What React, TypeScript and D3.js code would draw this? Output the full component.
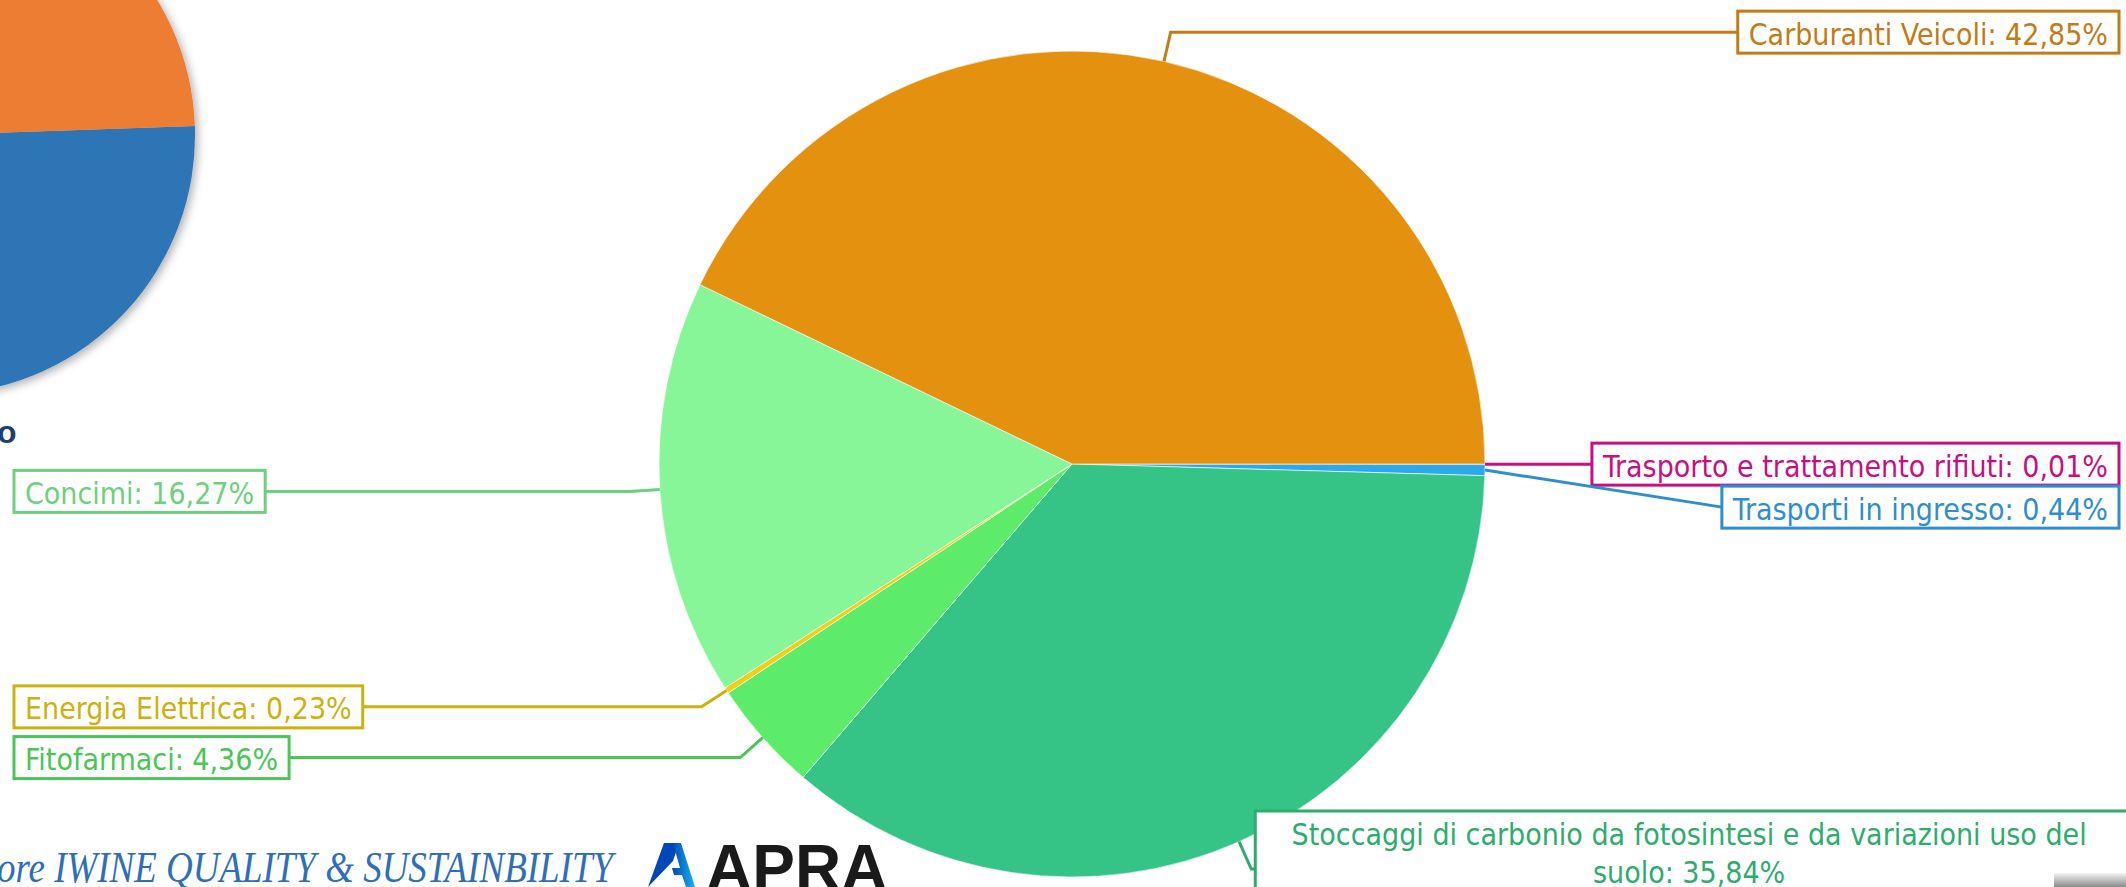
import React, { useEffect, useRef } from 'react';
import * as d3 from 'd3';

const categories = [
  'Trasporto e trattamento rifiuti',
  'Trasporti in ingresso',
  'Stoccaggi di carbonio da fotosintesi e da variazioni uso del suolo',
  'Fitofarmaci',
  'Energia Elettrica',
  'Concimi',
  'Carburanti Veicoli',
];
const values = [0.01, 0.44, 35.84, 4.36, 0.23, 16.27, 42.85];
const sliceColors = ['#C8127F', '#2EA8E8', '#35C486', '#5CEC69', '#F2CE17', '#87F698', '#E3910F'];
const labelColors = ['#C90F80', '#2F8ECE', '#2EAC6F', '#49C656', '#CDB10C', '#6ED07C', '#C47B16'];

// partial pie peeking in on the left edge
const sideValues = [50, 50];
const sideColors = ['#2E75B6', '#ED7D31'];

const footerText = 'ore IWINE QUALITY & SUSTAINBILITY';
const logoText = 'APRA';

const W = 2126;
const H = 887;

const App = () => {
  const ref = useRef<SVGSVGElement | null>(null);

  useEffect(() => {
    document.body.style.margin = '0';
    document.body.style.overflow = 'hidden';
    const svg = d3.select(ref.current);
    svg.selectAll('*').remove();

    const defs = svg.append('defs');
    const f = defs.append('filter').attr('id', 'shadow').attr('x', '-20%').attr('y', '-20%').attr('width', '140%').attr('height', '140%');
    f.append('feDropShadow').attr('dx', 3).attr('dy', 3).attr('stdDeviation', 4).attr('flood-color', '#000').attr('flood-opacity', 0.3);
    const g1 = defs.append('linearGradient').attr('id', 'grayfade').attr('x1', 0).attr('y1', 0).attr('x2', 0).attr('y2', 1);
    g1.append('stop').attr('offset', 0).attr('stop-color', '#f4f4f4');
    g1.append('stop').attr('offset', 1).attr('stop-color', '#8a8a8a');
    const g2 = defs.append('linearGradient').attr('id', 'logoA').attr('x1', 0).attr('y1', 0).attr('x2', 1).attr('y2', 0);
    g2.append('stop').attr('offset', 0).attr('stop-color', '#0047B8');
    g2.append('stop').attr('offset', 1).attr('stop-color', '#19B4EA');

    // ---- side pie ----
    const sidePie = d3.pie<number>().sort(null)
      .startAngle((88 * Math.PI) / 180)
      .endAngle((88 * Math.PI) / 180 + 2 * Math.PI);
    const sideArc = d3.arc<d3.PieArcDatum<number>>().innerRadius(0).outerRadius(259);
    const side = svg.append('g').attr('transform', 'translate(-64,135)').attr('filter', 'url(#shadow)');
    side.selectAll('path').data(sidePie(sideValues)).join('path')
      .attr('d', sideArc)
      .attr('fill', (d, i) => sideColors[i]);

    svg.append('text').attr('x', -3).attr('y', 443)
      .attr('font-family', '"Liberation Sans", Arial, sans-serif').attr('font-weight', 'bold')
      .attr('font-size', 32).attr('fill', '#1F3F6E').text('o');

    // ---- main pie ----
    const cx = 1072, cy = 464, r = 413, off = 30;
    const fs = 30, pad = 11, boxH = 42, lineH = 38;
    const font = '"DejaVu Sans Condensed", "DejaVu Sans", sans-serif';

    const pie = d3.pie<number>().sort(null)
      .startAngle(Math.PI / 2)
      .endAngle(Math.PI / 2 + 2 * Math.PI);
    const arcs = pie(values);
    const arc = d3.arc<d3.PieArcDatum<number>>().innerRadius(0).outerRadius(r);

    const main = svg.append('g').attr('transform', `translate(${cx},${cy})`);
    main.selectAll('path').data(arcs).join('path')
      .attr('d', arc)
      .attr('fill', (d, i) => sliceColors[i])
      .attr('stroke', '#ffffff').attr('stroke-opacity', 0.6).attr('stroke-width', 1);

    // ---- labels ----
    const fmt = (v: number) => v.toFixed(2).replace('.', ',') + '%';
    const measure = svg.append('text').attr('font-family', font).attr('font-size', fs).attr('visibility', 'hidden');
    const textW = (s: string) => { measure.text(s); return (measure.node() as SVGTextElement).getComputedTextLength(); };

    type L = { i: number; mid: number; right: boolean; ex: number; ey: number; bx: number; by: number; y: number; nat: number; lines: string[]; w: number; h: number };
    const labels: L[] = arcs.map((a, i) => {
      const mid = (a.startAngle + a.endAngle) / 2;
      const s = Math.sin(mid), c = -Math.cos(mid);
      const ex = cx + r * s, ey = cy + r * c;
      const bx = cx + (r + off) * s, by = cy + (r + off) * c;
      return { i, mid, right: s > 0, ex, ey, bx, by, y: by, nat: by, lines: [`${categories[i]}: ${fmt(values[i])}`], w: 0, h: boxH };
    });

    // wrap right-side labels that do not fit
    labels.forEach((l) => {
      const full = l.lines[0];
      const fw = textW(full);
      if (l.right) {
        const avail = W - 7 - (l.bx + 4);
        if (fw + 2 * pad > avail && l.by > cy + r * 0.5) {
          const words = full.split(' ');
          const lines: string[] = [];
          let cur = '';
          words.forEach((wd) => {
            const t = cur ? cur + ' ' + wd : wd;
            if (textW(t) > avail - 2 * pad - 40 && cur) { lines.push(cur); cur = wd; } else cur = t;
          });
          lines.push(cur);
          l.lines = lines;
          l.h = lines.length * lineH + 8;
          l.w = W - (l.bx + 4) + 10;
          return;
        }
      }
      l.w = fw + 2 * pad;
    });

    // avoid overlaps on each side
    [true, false].forEach((side) => {
      const list = labels.filter((l) => l.right === side).sort((a, b) => a.nat - b.nat);
      for (let k = 1; k < list.length; k++) {
        const p = list[k - 1], q = list[k];
        const minY = p.y + (p.h + q.h) / 2 + 1;
        if (q.h === boxH && q.y < minY) q.y = minY;
      }
    });

    const lg = svg.append('g');
    labels.forEach((l) => {
      const col = labelColors[l.i];
      let top = l.y - l.h / 2;
      if (top + l.h > H + 8) top = H + 8 - l.h;
      const x0 = l.right ? (l.lines.length > 1 ? l.bx + 4 : W - 7 - l.w) : 14;
      const ax = l.right ? x0 : x0 + l.w;
      const displaced = Math.abs(l.y - l.nat) > 6;
      const pts: [number, number][] = displaced
        ? [[ax, l.y], [l.ex, l.ey]]
        : [[ax, l.y], [l.bx, l.y], [l.ex, l.ey]];
      lg.append('path')
        .attr('d', d3.line()(pts))
        .attr('fill', 'none').attr('stroke', col).attr('stroke-width', 3);
      lg.append('rect')
        .attr('x', x0).attr('y', top).attr('width', l.w).attr('height', l.h)
        .attr('fill', '#ffffff').attr('stroke', col).attr('stroke-width', 3);
      const tx = l.lines.length > 1 ? x0 + (W - x0 - 7) / 2 + 2 : x0 + l.w / 2;
      l.lines.forEach((ln, k) => {
        lg.append('text')
          .attr('x', tx)
          .attr('y', top + 4 + lineH * k + lineH / 2)
          .attr('dy', '0.35em')
          .attr('text-anchor', 'middle')
          .attr('font-family', font).attr('font-size', fs)
          .attr('fill', col).text(ln);
      });
    });
    measure.remove();

    // ---- footer ----
    svg.append('text').attr('x', -3).attr('y', 882)
      .attr('font-family', '"Liberation Serif", "Times New Roman", serif').attr('font-style', 'italic')
      .attr('font-size', 44).attr('fill', '#2F6FB8')
      .attr('textLength', 616).attr('lengthAdjust', 'spacingAndGlyphs')
      .text(footerText);

    svg.append('path')
      .attr('d', 'M648,887 L664,843 L679,843 L673,861 Z')
      .attr('fill', '#0047B8');
    svg.append('path')
      .attr('d', 'M673,843 L681,843 L695,887 L686,887 L682,875 L674,875 L672,868 L680,868 Z')
      .attr('fill', 'url(#logoA)');
    svg.append('text').attr('x', 706).attr('y', 890)
      .attr('font-family', '"Liberation Sans", Arial, sans-serif').attr('font-weight', 'bold')
      .attr('font-size', 64).attr('fill', '#1A1A1A')
      .text(logoText);

    svg.append('rect').attr('x', 2054).attr('y', 873).attr('width', 72).attr('height', 14).attr('fill', 'url(#grayfade)');
  }, []);

  return (
    <svg ref={ref} width={W} height={H} style={{ position: 'absolute', left: 0, top: 0, background: '#ffffff' }} />
  );
};

export default App;
